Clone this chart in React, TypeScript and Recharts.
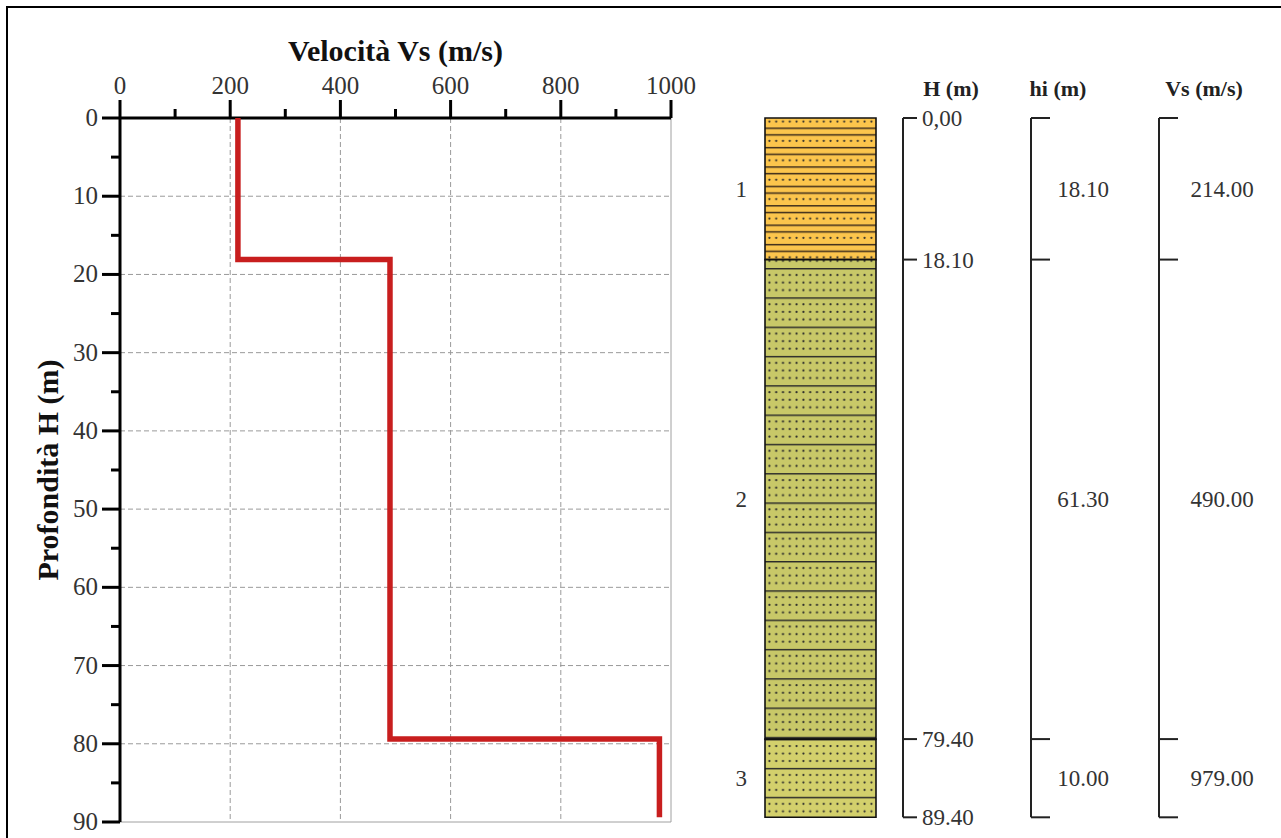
import React from 'react';
import { ComposedChart, Scatter, XAxis, YAxis, ReferenceLine, ReferenceArea, ReferenceDot } from 'recharts';

const FONT = "'Liberation Serif', 'Times New Roman', serif";

// velocity axis (m/s) and depth axis (m)
const velTicks = [0, 100, 200, 300, 400, 500, 600, 700, 800, 900, 1000];
const velGrid = [200, 400, 600, 800];
const depthTicks = [0, 5, 10, 15, 20, 25, 30, 35, 40, 45, 50, 55, 60, 65, 70, 75, 80, 85, 90];
const depthGrid = [10, 20, 30, 40, 50, 60, 70, 80];

// layers
const layerNames = ['1', '2', '3'];
const layerTops = [0, 18.1, 79.4];
const layerBases = [18.1, 79.4, 89.4];
const layerThick = ['18.10', '61.30', '10.00'];
const layerVs = [214, 490, 979];
const layerVsLabels = ['214.00', '490.00', '979.00'];
const layerFills = ['url(#sand1)', 'url(#sand2)', 'url(#sand3)'];

const boundaries = [0, 18.1, 79.4, 89.4];
const boundaryLabels = ['0,00', '18.10', '79.40', '89.40'];

const headers = ['H (m)', 'hi (m)', 'Vs (m/s)'];

// step profile built from the layer table
const profile = layerTops.flatMap((top, i) => [
  { vs: layerVs[i], h: top },
  { vs: layerVs[i], h: layerBases[i] },
]);

// column layout inside the right panel (x axis in panel pixels)
const colX1 = 65;
const colX2 = 176;
const bracketX = [203, 331, 459];
const bracketTick = [14, 19, 19];
const headerX = [251, 358, 504];
const valueX = [383, 522];

const layerRows = layerNames.map((name, i) => ({
  name,
  cx: valueX[0],
  mid: (layerTops[i] + layerBases[i]) / 2,
}));

const VelTick = (props: any) => {
  const { x, y, payload } = props;
  const major = payload.value % 200 === 0;
  return (
    <g>
      <line x1={x} x2={x} y1={y} y2={y - (major ? 18 : 9)} stroke="#000" strokeWidth={3} />
      {major && (
        <text x={x} y={y - 24} textAnchor="middle" fontSize={25} fill="#333" fontFamily={FONT}>
          {payload.value}
        </text>
      )}
    </g>
  );
};

const DepthTick = (props: any) => {
  const { x, y, payload } = props;
  const major = payload.value % 10 === 0;
  return (
    <g>
      <line x1={x} x2={x - (major ? 18 : 9)} y1={y} y2={y} stroke="#000" strokeWidth={3} />
      {major && (
        <text x={x - 22} y={y + 8} textAnchor="end" fontSize={25} fill="#333" fontFamily={FONT}>
          {payload.value}
        </text>
      )}
    </g>
  );
};

const HeaderTick = (props: any) => {
  const { x, y, payload } = props;
  const i = headerX.indexOf(payload.value);
  return (
    <text x={x} y={y - 22} textAnchor="middle" fontSize={22} fontWeight="bold" fill="#222" fontFamily={FONT}>
      {headers[i]}
    </text>
  );
};

const labelStyle = { fontSize: 23, fill: '#333', fontFamily: FONT };

export default function App() {
  return (
    <div
      style={{
        position: 'absolute',
        left: 0,
        top: 0,
        width: 1281,
        height: 838,
        background: '#fff',
        overflow: 'hidden',
      }}
    >
      <div
        style={{
          position: 'absolute',
          left: 6,
          top: 6,
          right: -10,
          bottom: -10,
          borderTop: '2px solid #000',
          borderLeft: '2px solid #000',
        }}
      />
      <div style={{ position: 'absolute', left: 0, top: 0 }}>
        <ComposedChart width={700} height={838} margin={{ top: 38, right: 29, bottom: 16, left: 30 }}>
          <XAxis
            xAxisId="v"
            orientation="top"
            type="number"
            dataKey="vs"
            domain={[0, 1000]}
            ticks={velTicks}
            interval={0}
            height={80}
            tickSize={0}
            tickMargin={0}
            tickLine={false}
            tick={<VelTick />}
            axisLine={{ stroke: '#000', strokeWidth: 3 }}
            label={{
              value: 'Velocità Vs (m/s)',
              position: 'insideTop',
              offset: 2,
              fontSize: 30,
              fontWeight: 'bold',
              fill: '#111',
              fontFamily: FONT,
            }}
          />
          <YAxis
            yAxisId="d"
            type="number"
            dataKey="h"
            domain={[0, 90]}
            reversed
            ticks={depthTicks}
            interval={0}
            width={90}
            tickSize={0}
            tickMargin={0}
            tickLine={false}
            tick={<DepthTick />}
            axisLine={{ stroke: '#000', strokeWidth: 3 }}
            label={{
              value: 'Profondità H (m)',
              angle: -90,
              position: 'insideLeft',
              offset: 17,
              fontSize: 30,
              fontWeight: 'bold',
              fill: '#111',
              fontFamily: FONT,
              style: { textAnchor: 'middle' },
            }}
          />
          {velGrid.map((v) => (
            <ReferenceLine key={'gv' + v} xAxisId="v" yAxisId="d" x={v} stroke="#9a9a9a" strokeDasharray="5 3" />
          ))}
          {depthGrid.map((d) => (
            <ReferenceLine key={'gh' + d} xAxisId="v" yAxisId="d" y={d} stroke="#9a9a9a" strokeDasharray="5 3" />
          ))}
          <ReferenceLine xAxisId="v" yAxisId="d" x={1000} stroke="#a0a0a0" />
          <ReferenceLine xAxisId="v" yAxisId="d" y={90} stroke="#a0a0a0" />
          <Scatter
            xAxisId="v"
            yAxisId="d"
            data={profile}
            line={{ stroke: '#c81e1e', strokeWidth: 5.5 }}
            shape={() => <g />}
            isAnimationActive={false}
          />
        </ComposedChart>
      </div>

      <div style={{ position: 'absolute', left: 700, top: 0 }}>
        <ComposedChart
          width={581}
          height={838}
          data={layerRows}
          margin={{ top: 88, right: 0, bottom: 16, left: 0 }}
        >
          <defs>
            <pattern id="sand1" patternUnits="userSpaceOnUse" x={66} y={108.1} width={6.8} height={19.4}>
              <rect width={6.8} height={19.4} fill="#fcc54c" />
              <line x1={0} x2={6.8} y1={0.7} y2={0.7} stroke="#3a2a1a" strokeWidth={1.5} />
              <line x1={0} x2={6.8} y1={7.4} y2={7.4} stroke="#3a2a1a" strokeWidth={1.5} />
              <circle cx={3.4} cy={13.4} r={1.1} fill="#2a2a2a" />
            </pattern>
            <pattern id="sand2" patternUnits="userSpaceOnUse" x={66} y={268} width={6.8} height={29.3}>
              <rect width={6.8} height={29.3} fill="#c8c868" />
              <line x1={0} x2={6.8} y1={0.7} y2={0.7} stroke="#2a2a2a" strokeWidth={1.5} />
              <circle cx={3.4} cy={7} r={1.1} fill="#2a2a2a" />
              <circle cx={3.4} cy={14.6} r={1.1} fill="#2a2a2a" />
              <circle cx={3.4} cy={22.2} r={1.1} fill="#2a2a2a" />
            </pattern>
            <pattern id="sand3" patternUnits="userSpaceOnUse" x={66} y={739} width={6.8} height={28.9}>
              <rect width={6.8} height={28.9} fill="#d3d06c" />
              <line x1={0} x2={6.8} y1={0.7} y2={0.7} stroke="#2a2a2a" strokeWidth={1.5} />
              <circle cx={3.4} cy={7} r={1.1} fill="#2a2a2a" />
              <circle cx={3.4} cy={14.5} r={1.1} fill="#2a2a2a" />
              <circle cx={3.4} cy={22} r={1.1} fill="#2a2a2a" />
            </pattern>
          </defs>
          <XAxis
            xAxisId="c"
            orientation="top"
            type="number"
            dataKey="cx"
            domain={[0, 581]}
            allowDataOverflow
            ticks={headerX}
            interval={0}
            height={30}
            tickSize={0}
            tickMargin={0}
            tickLine={false}
            axisLine={false}
            tick={<HeaderTick />}
          />
          <YAxis yAxisId="d" type="number" dataKey="mid" domain={[0, 90]} allowDataOverflow reversed hide />

          {layerNames.map((name, i) => (
            <ReferenceArea
              key={'l' + name}
              xAxisId="c"
              yAxisId="d"
              x1={colX1}
              x2={colX2}
              y1={layerTops[i]}
              y2={layerBases[i]}
              fill={layerFills[i]}
              fillOpacity={1}
              stroke="#111"
              strokeWidth={1.6}
              label={{ value: name, position: 'left', offset: 18, ...labelStyle }}
            />
          ))}

          {bracketX.map((bx) => (
            <ReferenceLine
              key={'bv' + bx}
              xAxisId="c"
              yAxisId="d"
              segment={[
                { x: bx, y: boundaries[0] },
                { x: bx, y: boundaries[boundaries.length - 1] },
              ]}
              stroke="#222"
              strokeWidth={2}
            />
          ))}
          {bracketX.map((bx, c) =>
            boundaries.map((b, i) => (
              <ReferenceLine
                key={'bt' + c + '-' + i}
                xAxisId="c"
                yAxisId="d"
                segment={[
                  { x: bx, y: b },
                  { x: bx + bracketTick[c], y: b },
                ]}
                stroke="#222"
                strokeWidth={2}
                label={c === 0 ? { value: boundaryLabels[i], position: 'right', offset: 5, ...labelStyle } : undefined}
              />
            ))
          )}

          {layerThick.map((t, i) => (
            <ReferenceDot
              key={'hi' + i}
              xAxisId="c"
              yAxisId="d"
              x={valueX[0]}
              y={(layerTops[i] + layerBases[i]) / 2}
              r={0}
              fill="none"
              stroke="none"
              label={{ value: t, position: 'center', ...labelStyle }}
            />
          ))}
          {layerVsLabels.map((v, i) => (
            <ReferenceDot
              key={'vs' + i}
              xAxisId="c"
              yAxisId="d"
              x={valueX[1]}
              y={(layerTops[i] + layerBases[i]) / 2}
              r={0}
              fill="none"
              stroke="none"
              label={{ value: v, position: 'center', ...labelStyle }}
            />
          ))}
        </ComposedChart>
      </div>
    </div>
  );
}
